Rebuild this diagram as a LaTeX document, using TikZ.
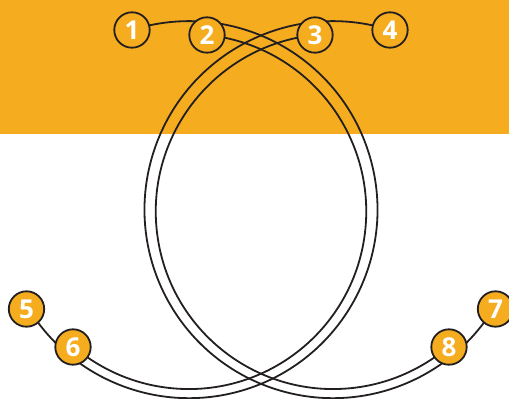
\documentclass[tikz,border=0pt]{standalone}
\usepackage{fontspec}
\setmainfont{Open Sans}
\usetikzlibrary{backgrounds}
\definecolor{band}{HTML}{F5AD1F}
\definecolor{ink}{HTML}{231F20}
\tikzset{
  num/.style={circle, draw=ink, line width=1.8pt, fill=band, minimum size=35.4pt, inner sep=0pt,
    text=white, font=\fontsize{26}{26}\selectfont\bfseries},
  rope/.style={draw=ink, line width=1.8pt}
}
\begin{document}
\begin{tikzpicture}[x=1pt,y=1pt]
\useasboundingbox (0,0) rectangle (509,399);
\node[num] (n1) at (132,369) {1};
\node[num] (n2) at (207,364) {2};
\node[num] (n3) at (315,364) {3};
\node[num] (n4) at (390,369) {4};
\node[num] (n5) at (26.5,90) {5};
\node[num] (n6) at (73,52) {6};
\node[num] (n7) at (495.5,90) {7};
\node[num] (n8) at (449,52) {8};
\begin{pgfonlayer}{background}
\fill[band] (0,265) rectangle (509,399);
% loop A (centre 189,189)
\draw[rope] (n1.center) arc[start angle=107.6, end angle=-148.6, radius=188.5];
\draw[rope] (n2.center) arc[start angle=84.1, end angle=-130.3, radius=177.5];
% loop B (centre 333,189)
\draw[rope] (n4.center) arc[start angle=72.4, end angle=328.6, radius=188.5];
\draw[rope] (n3.center) arc[start angle=95.9, end angle=310.3, radius=177.5];
\end{pgfonlayer}
\end{tikzpicture}
\end{document}
